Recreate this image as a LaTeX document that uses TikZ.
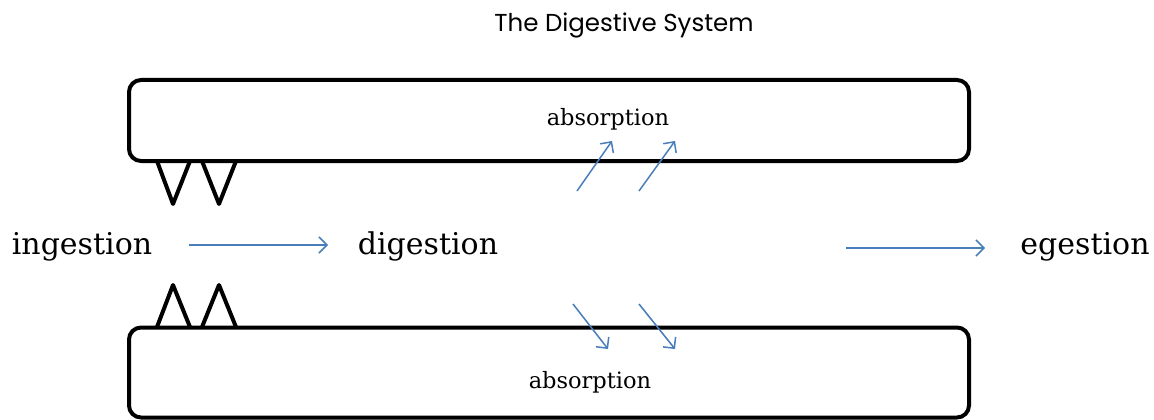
\documentclass[tikz,border=0pt]{standalone}
\usepackage{fontspec}
\setmainfont{DejaVu Serif}
\newfontfamily\titlefont{Poppins}
\usetikzlibrary{arrows.meta}
\definecolor{arrowblue}{RGB}{74,126,187}
\tikzset{
  gutbox/.style={draw=black, line width=4pt, rounded corners=12pt, inner sep=0pt},
  tooth/.style={draw=black, line width=4pt, line join=round, line cap=round},
  flow/.style={draw=arrowblue, line width=1.5pt, -{Straight Barb[length=8pt,width=16pt,line width=1.5pt]}},
  stage/.style={font=\fontsize{30}{34}\selectfont, inner sep=0pt, anchor=base},
  absorb/.style={font=\fontsize{22.5}{26}\selectfont, inner sep=0pt, anchor=base},
}
\begin{document}
\begin{tikzpicture}[x=1pt,y=-1pt]
\useasboundingbox (0,0) rectangle (1154,420);
% title
\node[font=\titlefont\fontsize{24.5}{28}\selectfont, inner sep=0pt, anchor=base] (title) at (624,31.5) {The Digestive System};
% boxes
\node[gutbox, minimum width=840pt, minimum height=81pt] (topbox) at (549,120.5) {};
\node[gutbox, minimum width=840pt, minimum height=90pt] (botbox) at (549,372.5) {};
% teeth
\draw[tooth] (157,161) -- (173,204) -- (190,161);
\draw[tooth] (202,161) -- (219,204) -- (236,161);
\draw[tooth] (157,327) -- (173,285) -- (190,327);
\draw[tooth] (202,327) -- (219,285) -- (236,327);
% labels
\node[stage] (ing) at (82,254) {ingestion};
\node[stage] (dig) at (428,254) {digestion};
\node[stage] (eg) at (1085,254) {egestion};
\node[absorb] (abstop) at (608,125) {absorption};
\node[absorb] (absbot) at (590,388) {absorption};
% coordinates for arrows
\coordinate (a1s) at (189,245); \coordinate (a1e) at (328,245);
\coordinate (a2s) at (846,248); \coordinate (a2e) at (985,248);
\coordinate (u1s) at (577,191); \coordinate (u1e) at (612,141);
\coordinate (u2s) at (639,191); \coordinate (u2e) at (675,141);
\coordinate (d1s) at (573,304); \coordinate (d1e) at (608,349);
\coordinate (d2s) at (639,304); \coordinate (d2e) at (675,349);
\draw[flow] (a1s) -- (a1e);
\draw[flow] (a2s) -- (a2e);
\draw[flow] (u1s) -- (u1e);
\draw[flow] (u2s) -- (u2e);
\draw[flow] (d1s) -- (d1e);
\draw[flow] (d2s) -- (d2e);
\end{tikzpicture}
\end{document}
